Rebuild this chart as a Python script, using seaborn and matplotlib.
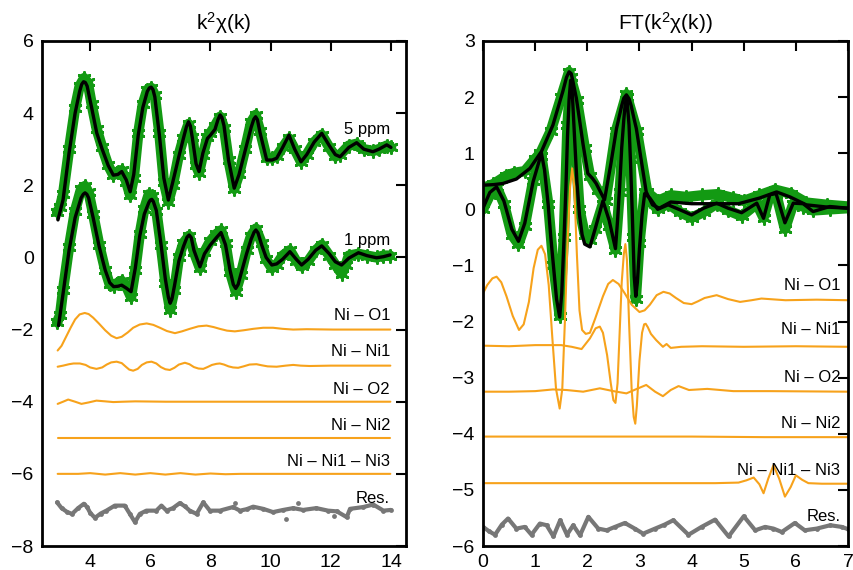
import numpy as np
import pandas as pd
import matplotlib
matplotlib.use("Agg")
import matplotlib.pyplot as plt
import seaborn as sns

# ---------------- Left panel: k^2 chi(k) ----------------
k_fit5 = [2.93, 3.1, 3.3, 3.5, 3.65, 3.72, 3.78, 3.84, 3.9, 4.05, 4.22, 4.4, 4.6, 4.77, 4.92, 5.05, 5.2, 5.33, 5.45, 5.6,
          5.75, 5.9, 5.97, 6.03, 6.09, 6.15, 6.3, 6.45, 6.6, 6.75, 6.95, 7.1, 7.2, 7.27, 7.33, 7.4, 7.52, 7.62, 7.75, 7.9,
          8.0, 8.15, 8.25, 8.32, 8.38, 8.45, 8.6, 8.79, 8.95, 9.15, 9.35, 9.44, 9.5, 9.56, 9.65, 9.87, 10.05, 10.2, 10.4,
          10.61, 10.8, 11.01, 11.2, 11.45, 11.7, 11.95, 12.15, 12.31, 12.6, 12.86, 13.1, 13.4, 13.6, 13.86, 14.0]
fit5 = [1.04, 1.6, 2.9, 4.0, 4.6, 4.8, 4.87, 4.85, 4.75, 4.15, 3.45, 3.0, 2.55, 2.28, 2.3, 2.38, 2.15, 1.82, 2.3, 3.4,
        4.15, 4.6, 4.7, 4.72, 4.65, 4.45, 3.4, 2.2, 1.59, 2.1, 2.8, 3.3, 3.62, 3.76, 3.65, 3.3, 2.6, 2.38, 2.9, 3.3,
        3.39, 3.55, 3.82, 3.95, 3.88, 3.65, 2.7, 1.92, 2.3, 2.95, 3.6, 3.83, 3.9, 3.82, 3.45, 2.7, 2.7, 2.75, 3.05,
        3.39, 3.0, 2.65, 2.85, 3.2, 3.44, 3.1, 2.85, 2.79, 3.05, 3.18, 3.0, 2.93, 3.0, 3.12, 3.05]

k_dat5 = [2.9, 3.0, 3.1, 3.3, 3.5, 3.65, 3.8, 3.92, 4.05, 4.22, 4.4, 4.6, 4.77, 4.92, 5.05, 5.2, 5.33, 5.45, 5.6, 5.75,
          5.9, 6.03, 6.15, 6.3, 6.45, 6.6, 6.75, 6.95, 7.1, 7.27, 7.4, 7.52, 7.62, 7.75, 7.9, 8.0, 8.15, 8.32, 8.45, 8.6,
          8.79, 8.95, 9.15, 9.35, 9.5, 9.65, 9.87, 10.05, 10.2, 10.4, 10.61, 10.8, 11.01, 11.2, 11.45, 11.7, 11.95, 12.15,
          12.31, 12.6, 12.86, 13.1, 13.4, 13.6, 13.86, 14.0]
dat5 = [1.25, 1.4, 1.75, 3.0, 4.15, 4.75, 4.97, 4.85, 4.25, 3.55, 3.05, 2.55, 2.28, 2.38, 2.42, 2.1, 1.72, 2.2, 3.45, 4.25,
        4.65, 4.7, 4.5, 3.45, 2.1, 1.55, 2.0, 2.85, 3.3, 3.7, 3.35, 2.55, 2.35, 2.85, 3.35, 3.45, 3.65, 3.9, 3.6, 2.7,
        1.9, 2.3, 3.0, 3.75, 3.95, 3.5, 2.75, 2.75, 2.8, 3.05, 3.3, 3.0, 2.65, 2.85, 3.2, 3.4, 3.05, 2.8,
        2.85, 3.1, 3.15, 3.0, 2.95, 3.0, 3.1, 3.05]

k_fit1 = [2.95, 3.1, 3.3, 3.5, 3.7, 3.77, 3.83, 3.89, 3.95, 4.1, 4.3, 4.5, 4.65, 4.78, 4.92, 5.05, 5.2, 5.36, 5.5, 5.65,
          5.8, 5.95, 6.0, 6.05, 6.1, 6.2, 6.35, 6.5, 6.6, 6.66, 6.72, 6.8, 6.95, 7.1, 7.22, 7.29, 7.36, 7.45, 7.65, 7.8,
          7.99, 8.2, 8.35, 8.5, 8.65, 8.76, 8.84, 8.92, 9.0, 9.2, 9.35, 9.45, 9.51, 9.58, 9.7, 9.85, 10.04, 10.2, 10.4,
          10.64, 10.85, 11.03, 11.25, 11.5, 11.7, 11.95, 12.15, 12.36, 12.6, 12.92, 13.2, 13.52, 13.75, 13.97]
fit1 = [-1.89, -1.0, 0.2, 1.1, 1.65, 1.75, 1.79, 1.75, 1.65, 1.1, 0.3, -0.35, -0.7, -0.81, -0.8, -0.77, -0.85, -0.95, -0.3,
        0.6, 1.2, 1.52, 1.59, 1.61, 1.55, 1.3, 0.4, -0.6, -1.1, -1.27, -1.15, -0.8, -0.1, 0.3, 0.56, 0.62, 0.55, 0.2,
        -0.26, 0.1, 0.34, 0.55, 0.69, 0.35, -0.35, -0.75, -0.86, -0.75, -0.5, 0.1, 0.5, 0.7, 0.76, 0.68, 0.35, 0.0,
        -0.21, -0.18, -0.05, 0.16, -0.05, -0.21, -0.05, 0.2, 0.32, 0.1, -0.12, -0.21, -0.02, 0.13, 0.05, -0.01, 0.02, 0.07]

k_dat1 = [2.9, 3.0, 3.1, 3.3, 3.5, 3.7, 3.83, 3.95, 4.1, 4.3, 4.5, 4.65, 4.78, 4.92, 5.05, 5.2, 5.36, 5.5, 5.65, 5.8,
          5.95, 6.05, 6.2, 6.35, 6.5, 6.66, 6.8, 6.95, 7.1, 7.29, 7.45, 7.65, 7.8, 7.99, 8.2, 8.35, 8.5, 8.65, 8.84, 9.0,
          9.2, 9.35, 9.51, 9.7, 9.85, 10.04, 10.2, 10.4, 10.64, 10.85, 11.03, 11.25, 11.5, 11.7, 11.95, 12.15, 12.36, 12.5,
          12.6, 12.92, 13.2, 13.52, 13.75, 13.97]
dat1 = [-1.8, -1.6, -0.9, 0.3, 1.3, 1.9, 1.98, 1.8, 1.2, 0.35, -0.35, -0.75, -0.8, -0.7, -0.65, -0.8, -1.1, -0.35, 0.65, 1.35,
        1.75, 1.7, 1.3, 0.35, -0.7, -1.45, -0.9, 0.0, 0.4, 0.6, 0.15, -0.3, 0.15, 0.45, 0.65, 0.75, 0.4, -0.4, -0.95, -0.5,
        0.2, 0.6, 0.8, 0.4, -0.05, -0.3, -0.2, 0.05, 0.2, -0.1, -0.25, -0.1, 0.2, 0.35, 0.05, -0.2, -0.45, -0.2,
        0.05, 0.1, 0.05, 0.0, 0.05, 0.05]

k_o1 = [2.92, 3.05, 3.2, 3.35, 3.5, 3.65, 3.82, 3.95, 4.1, 4.3, 4.5, 4.7, 4.88, 5.05, 5.25, 5.43, 5.65, 5.88, 6.1, 6.32,
        6.55, 6.82, 7.05, 7.31, 7.6, 7.87, 8.1, 8.31, 8.55, 8.81, 9.1, 9.42, 9.75, 10.08, 10.4, 10.75, 11.2, 12.08, 13.0,
        13.98]
left_o1 = [-2.58, -2.45, -2.2, -1.95, -1.72, -1.58, -1.54, -1.57, -1.67, -1.84, -2.02, -2.17, -2.24, -2.2, -2.08, -1.95,
           -1.86, -1.83, -1.87, -1.95, -2.04, -2.1, -2.05, -1.98, -1.91, -1.89, -1.93, -1.98, -2.03, -2.05, -2.02, -1.98,
           -1.95, -1.95, -1.98, -2.0, -1.99, -2.0, -2.0, -2.0]

k_ni1 = [2.92, 3.1, 3.3, 3.45, 3.66, 3.85, 4.0, 4.21, 4.4, 4.55, 4.7, 4.88, 5.05, 5.2, 5.3, 5.43, 5.58, 5.72, 5.88, 6.04,
         6.2, 6.35, 6.5, 6.65, 6.8, 6.95, 7.15, 7.3, 7.45, 7.6, 7.76, 7.9, 8.05, 8.2, 8.31, 8.45, 8.6, 8.75, 8.92, 9.1,
         9.3, 9.53, 9.7, 9.9, 10.2, 10.5, 10.75, 11.0, 11.3, 12.0, 13.0, 13.98]
left_ni1 = [-3.03, -3.0, -2.96, -2.94, -2.94, -2.98, -3.05, -3.09, -3.05, -2.97, -2.91, -2.89, -2.93, -3.04, -3.11, -3.14,
            -3.09, -2.98, -2.91, -2.89, -2.94, -3.04, -3.1, -3.12, -3.06, -2.97, -2.92, -2.96, -3.04, -3.08, -3.09, -3.04,
            -2.98, -2.95, -2.94, -2.97, -3.02, -3.05, -3.06, -3.02, -2.97, -2.96, -2.99, -3.02, -3.03, -3.0, -2.98, -3.0,
            -3.01, -3.0, -3.0, -3.0]

k_o2 = [2.92, 3.1, 3.27, 3.5, 3.71, 3.95, 4.21, 4.5, 4.77, 5.1, 5.5, 6.5, 8.0, 10.0, 12.0, 13.98]
left_o2 = [-4.06, -4.0, -3.94, -4.0, -4.06, -4.02, -3.97, -3.99, -4.01, -4.0, -3.99, -4.0, -4.0, -4.0, -4.0, -4.0]

k_ni2 = [2.92, 6.0, 10.0, 13.98]
left_ni2 = [-5.0, -5.0, -5.0, -5.0]

k_ni3 = [2.92, 3.6, 4.0, 4.5, 5.0, 5.5, 6.0, 6.5, 7.0, 7.5, 8.0, 8.5, 9.0, 10.0, 12.0, 13.98]
left_ni3 = [-6.0, -6.0, -5.98, -6.02, -5.98, -6.02, -5.98, -6.02, -5.98, -6.02, -5.99, -6.01, -6.0, -6.0, -6.0, -6.0]

k_res = [2.9, 3.05, 3.24, 3.4, 3.6, 3.79, 3.9, 4.0, 4.16, 4.35, 4.54, 4.82, 5.15, 5.32, 5.49, 5.65, 5.87, 6.2, 6.37, 6.54,
         6.75, 6.98, 7.15, 7.31, 7.54, 7.76, 7.98, 8.31, 8.75, 8.98, 9.2, 9.42, 9.75, 10.08, 10.42, 10.75, 11.08,
         11.52, 11.91, 12.2, 12.53, 12.64, 13.08, 13.41, 13.75, 14.0]
left_res = [-6.79, -6.95, -7.06, -7.11, -6.95, -6.83, -6.92, -7.08, -7.22, -7.1, -7.02, -6.88, -6.88, -7.11, -7.34, -7.11, -7.02,
            -7.02, -6.88, -7.02, -6.95, -6.81, -6.9, -7.02, -7.11, -6.79, -7.02, -7.02, -6.92, -7.02, -6.98, -6.91, -6.97,
            -7.06, -7.0, -6.95, -7.0, -6.95, -7.02, -7.04, -7.2, -6.97, -6.92, -6.85, -7.02, -7.0]
k_res_out = [8.8, 10.5, 10.9, 12.1]
left_res_out = [-6.8, -7.25, -6.8, -7.18]

# ---------------- Right panel: FT ----------------
r_mag = [0.0, 0.2, 0.38, 0.64, 0.9, 1.12, 1.34, 1.53, 1.6, 1.65, 1.69, 1.72, 1.79, 1.85, 1.92, 2.01, 2.1, 2.17, 2.33,
         2.45, 2.56, 2.66, 2.7, 2.75, 2.8, 2.84, 2.9, 2.94, 3.03, 3.13, 3.25, 3.38, 3.6, 4.0, 4.5, 4.9, 5.3, 5.63, 5.89,
         6.2, 6.6, 7.0]
fit_mag = [0.43, 0.44, 0.46, 0.54, 0.73, 1.03, 1.5, 2.1, 2.35, 2.45, 2.42, 2.3, 1.98, 1.6, 1.15, 0.64, 0.55, 0.46, 0.17,
           0.8, 1.44, 1.85, 1.98, 2.04, 1.97, 1.85, 1.6, 1.44, 0.9, 0.31, 0.08, 0.02, 0.13, 0.1, 0.1, 0.1, 0.2, 0.31,
           0.22, 0.08, 0.04, 0.02]

r_dmag = [0.0, 0.2, 0.45, 0.6, 0.8, 1.0, 1.1, 1.3, 1.5, 1.65, 1.8, 1.95, 2.05, 2.2, 2.35, 2.55, 2.75, 2.95, 3.15, 3.35,
          3.6, 3.9, 4.2, 4.5, 4.8, 5.0, 5.3, 5.6, 5.9, 6.2, 6.6, 7.0]
dat_mag = [0.38, 0.45, 0.6, 0.65, 0.68, 0.9, 1.0, 1.4, 2.0, 2.45, 1.95, 1.1, 0.6, 0.35, 0.15, 1.4, 2.05, 1.4, 0.3, 0.15,
           0.25, 0.22, 0.25, 0.27, 0.2, 0.15, 0.25, 0.35, 0.28, 0.12, 0.08, 0.05]

r_im = [0.0, 0.13, 0.26, 0.4, 0.55, 0.68, 0.8, 0.96, 1.12, 1.18, 1.25, 1.3, 1.35, 1.41, 1.47, 1.51, 1.55, 1.59, 1.62,
        1.65, 1.68, 1.71, 1.76, 1.8, 1.85, 1.9, 1.95, 2.05, 2.15, 2.3, 2.42, 2.54, 2.58, 2.62, 2.66, 2.7, 2.73, 2.76,
        2.8, 2.83, 2.86, 2.88, 2.9, 2.93, 2.96, 3.0, 3.05, 3.1, 3.2, 3.35, 3.55, 3.78, 4.0, 4.23, 4.48, 4.7, 4.96,
        5.25, 5.38, 5.5, 5.62, 5.79, 5.95, 6.14, 6.33, 6.65, 7.0]
fit_im = [0.02, 0.3, 0.4, 0.15, -0.35, -0.57, -0.25, 0.49, 1.0, 0.7, 0.08, -0.5, -1.0, -1.6, -1.92, -1.5, -0.6, 0.4, 1.3,
          1.95, 2.3, 2.1, 1.2, 0.5, -0.1, -0.45, -0.62, -0.67, -0.35, 0.15, -0.2, -0.7, -0.2, 0.4, 1.1, 1.6, 1.9, 1.98,
          1.5, 0.8, 0.0, -0.6, -1.2, -1.55, -1.3, -0.7, -0.1, 0.28, 0.2, 0.0, 0.08, -0.01, -0.1, 0.02, 0.11, 0.02, -0.06,
          0.11, -0.16, 0.26, 0.28, -0.24, 0.11, 0.1, -0.04, 0.05, 0.02]
r_dim = [0.0, 0.13, 0.26, 0.4, 0.55, 0.68, 0.8, 0.96, 1.12, 1.25, 1.35, 1.47, 1.55, 1.62, 1.68, 1.76, 1.85, 1.95, 2.05,
         2.15, 2.3, 2.42, 2.54, 2.62, 2.7, 2.76, 2.83, 2.88, 2.93, 3.0, 3.1, 3.2, 3.35, 3.55, 3.78, 4.0, 4.23, 4.48,
         4.7, 4.96, 5.25, 5.38, 5.5, 5.62, 5.79, 5.95, 6.14, 6.33, 6.65, 7.0]
dat_im = [0.0, 0.25, 0.4, 0.1, -0.45, -0.62, -0.3, 0.5, 0.95, 0.1, -1.0, -1.9, -0.5, 1.5, 2.35, 1.3, 0.0, -0.45, -0.55,
          -0.35, 0.1, -0.3, -0.72, 0.3, 1.5, 2.0, 0.9, -0.5, -1.6, -0.6, 0.3, 0.15, 0.0, 0.1, -0.05, -0.15, -0.05, 0.1,
          -0.02, -0.12, 0.1, -0.15, 0.25, 0.28, -0.35, 0.1, 0.05, -0.02, 0.0, 0.02]

r_o1 = [0.0, 0.08, 0.18, 0.26, 0.35, 0.45, 0.57, 0.69, 0.78, 0.88, 0.97, 1.05, 1.12, 1.19, 1.26, 1.33, 1.4, 1.47, 1.52,
        1.57, 1.62, 1.67, 1.71, 1.75, 1.8, 1.85, 1.9, 1.97, 2.05, 2.15, 2.3, 2.4, 2.49, 2.6, 2.72, 2.85, 3.0, 3.1, 3.2,
        3.33, 3.46, 3.58, 3.7, 3.85, 4.0, 4.12, 4.25, 4.48, 4.7, 4.93, 5.15, 5.34, 5.8, 6.4, 7.0]
ft_o1 = [-1.5, -1.35, -1.23, -1.2, -1.3, -1.55, -1.9, -2.15, -2.05, -1.65, -1.05, -0.72, -0.65, -0.8, -1.35, -2.3, -3.2,
         -3.55, -3.2, -2.0, -0.6, 0.4, 0.73, 0.4, -0.8, -1.8, -2.15, -2.22, -2.2, -1.95, -1.55, -1.33, -1.26, -1.33, -1.5,
         -1.7, -1.83, -1.8, -1.7, -1.53, -1.47, -1.5, -1.58, -1.67, -1.69, -1.64, -1.58, -1.53, -1.6, -1.65, -1.62,
         -1.59, -1.62, -1.61, -1.62]

r_ni1 = [0.0, 0.5, 1.0, 1.5, 1.7, 1.89, 2.05, 2.16, 2.24, 2.3, 2.38, 2.45, 2.5, 2.54, 2.58, 2.62, 2.66, 2.7, 2.73, 2.76,
         2.8, 2.85, 2.89, 2.92, 2.95, 3.0, 3.05, 3.09, 3.12, 3.16, 3.22, 3.32, 3.45, 3.52, 3.6, 3.8, 4.2, 5.0, 6.0, 7.0]
ft_ni1 = [-2.43, -2.44, -2.42, -2.42, -2.45, -2.49, -2.3, -2.12, -2.09, -2.2, -2.6, -3.1, -3.4, -3.45, -3.1, -2.2, -1.3,
          -0.8, -0.62, -0.9, -2.0, -3.2, -3.7, -3.82, -3.5, -2.7, -2.2, -2.05, -2.04, -2.1, -2.22, -2.33, -2.45, -2.4,
          -2.47, -2.45, -2.44, -2.45, -2.44, -2.45]

r_o2 = [0.0, 0.5, 1.0, 1.34, 1.6, 1.92, 2.24, 2.5, 2.75, 2.95, 3.13, 3.3, 3.45, 3.6, 3.75, 3.95, 4.3, 4.8, 5.5, 7.0]
ft_o2 = [-3.25, -3.25, -3.24, -3.21, -3.22, -3.25, -3.19, -3.24, -3.28, -3.2, -3.13, -3.25, -3.33, -3.22, -3.15, -3.22,
         -3.2, -3.24, -3.24, -3.25]

r_ni2 = [0.0, 2.0, 4.0, 5.4, 7.0]
ft_ni2 = [-4.05, -4.05, -4.05, -4.06, -4.06]

r_ni3 = [0.0, 2.0, 4.45, 4.9, 5.05, 5.19, 5.3, 5.38, 5.47, 5.57, 5.68, 5.79, 5.9, 6.0, 6.12, 6.24, 6.5, 7.0]
ft_ni3 = [-4.88, -4.88, -4.88, -4.87, -4.83, -4.78, -4.9, -5.06, -4.8, -4.56, -4.8, -5.12, -4.95, -4.74, -4.82, -4.88,
          -4.89, -4.89]

r_res = [0.0, 0.12, 0.23, 0.36, 0.48, 0.64, 0.8, 0.93, 1.09, 1.22, 1.35, 1.48, 1.61, 1.73, 1.86, 2.02, 2.21, 2.37, 2.53,
         2.72, 2.91, 3.07, 3.3, 3.48, 3.65, 3.94, 4.19, 4.45, 4.71, 5.0, 5.22, 5.41, 5.57, 5.73, 5.98, 6.17, 6.4, 6.66,
         6.88, 7.0]
ft_res = [-5.66, -5.74, -5.8, -5.62, -5.51, -5.69, -5.66, -5.8, -5.6, -5.63, -5.83, -5.54, -5.8, -5.63, -5.81, -5.48,
          -5.69, -5.72, -5.66, -5.59, -5.69, -5.78, -5.69, -5.62, -5.54, -5.8, -5.66, -5.53, -5.83, -5.47, -5.72, -5.66,
          -5.69, -5.75, -5.59, -5.72, -5.69, -5.63, -5.66, -5.7]

left_labels = ["5 ppm", "1 ppm", "Ni \u2013 O1", "Ni \u2013 Ni1", "Ni \u2013 O2", "Ni \u2013 Ni2",
               "Ni \u2013 Ni1 \u2013 Ni3", "Res."]
left_label_y = [3.55, 0.48, -1.62, -2.62, -3.65, -4.65, -5.67, -6.67]
right_labels = ["Ni \u2013 O1", "Ni \u2013 Ni1", "Ni \u2013 O2", "Ni \u2013 Ni2", "Ni \u2013 Ni1 \u2013 Ni3", "Res."]
right_label_y = [-1.35, -2.15, -2.99, -3.81, -4.65, -5.48]

GREEN = "#139a13"
ORANGE = "#f7a21b"
GRAY = "#777777"
BLACK = "#000000"

sns.set_style("white")
plt.rcParams["font.family"] = ["Liberation Sans", "DejaVu Sans"]
plt.rcParams["mathtext.default"] = "regular"
plt.rcParams["axes.unicode_minus"] = True
plt.rcParams["text.color"] = "black"
plt.rcParams["xtick.color"] = "black"
plt.rcParams["ytick.color"] = "black"

fig = plt.figure(figsize=(8.54, 5.70), dpi=100)
axL = fig.add_axes([0.0492, 0.0421, 0.4262, 0.8860])
axR = fig.add_axes([0.5656, 0.0421, 0.4274, 0.8860])


def green_data(ax, x, y):
    sns.lineplot(x=x, y=y, ax=ax, color=GREEN, lw=7.5, sort=False, estimator=None)
    sns.scatterplot(x=x, y=y, ax=ax, marker=(6, 2, 0), s=75, color=GREEN, edgecolor=GREEN, linewidth=2.0)


def line(ax, x, y, color, lw):
    sns.lineplot(x=x, y=y, ax=ax, color=color, lw=lw, sort=False, estimator=None)


# Left panel
green_data(axL, k_dat5, dat5)
green_data(axL, k_dat1, dat1)
line(axL, k_fit5, fit5, BLACK, 2.4)
line(axL, k_fit1, fit1, BLACK, 2.4)
for xs, ys in [(k_o1, left_o1), (k_ni1, left_ni1), (k_o2, left_o2), (k_ni2, left_ni2), (k_ni3, left_ni3)]:
    line(axL, xs, ys, ORANGE, 1.5)
line(axL, k_res, left_res, GRAY, 3.0)
sns.scatterplot(x=k_res, y=left_res, ax=axL, color=GRAY, s=12, edgecolor=GRAY, linewidth=0)
sns.scatterplot(x=k_res_out, y=left_res_out, ax=axL, color=GRAY, s=12, edgecolor=GRAY, linewidth=0)

# Right panel
green_data(axR, r_dmag, dat_mag)
green_data(axR, r_dim, dat_im)
line(axR, r_mag, fit_mag, BLACK, 2.4)
line(axR, r_im, fit_im, BLACK, 2.4)
for xs, ys in [(r_o1, ft_o1), (r_ni1, ft_ni1), (r_o2, ft_o2), (r_ni2, ft_ni2), (r_ni3, ft_ni3)]:
    line(axR, xs, ys, ORANGE, 1.5)
line(axR, r_res, ft_res, GRAY, 3.0)
sns.scatterplot(x=r_res, y=ft_res, ax=axR, color=GRAY, s=12, edgecolor=GRAY, linewidth=0)

# Axes styling
axL.set_xlim(2.4, 14.5)
axL.set_ylim(-8, 6)
axL.set_xticks([4, 6, 8, 10, 12, 14])
axL.set_yticks([-8, -6, -4, -2, 0, 2, 4, 6])
axR.set_xlim(0, 7)
axR.set_ylim(-6, 3)
axR.set_xticks(range(0, 8))
axR.set_yticks(range(-6, 4))

for ax in (axL, axR):
    ax.set_xlabel("")
    ax.set_ylabel("")
    for sp in ax.spines.values():
        sp.set_visible(True)
        sp.set_linewidth(2.0)
        sp.set_color("black")
    ax.tick_params(direction="in", length=7, width=1.5, top=True, right=True, labelsize=14, pad=6,
                   colors="black")
    ax.grid(False)

axL.set_title("k$^2$\u03c7(k)", fontsize=15, pad=8)
axR.set_title("FT(k$^2$\u03c7(k))", fontsize=15, pad=8)

for lab, yy in zip(left_labels, left_label_y):
    axL.text(13.97, yy, lab, ha="right", va="center", fontsize=12)
for lab, yy in zip(right_labels, right_label_y):
    axR.text(6.85, yy, lab, ha="right", va="center", fontsize=12)

fig.savefig("out.png", dpi=100)
